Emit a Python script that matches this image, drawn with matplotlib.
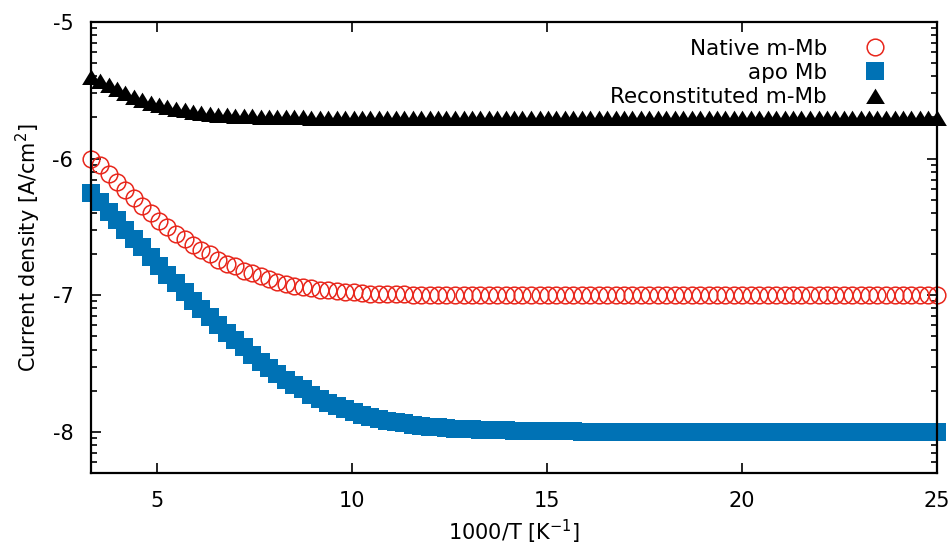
import numpy as np
import matplotlib.pyplot as plt
from matplotlib.ticker import FixedLocator

# 1000/T values [1/K]
inv_temp = [
    3.33, 3.55, 3.77, 3.98, 4.20, 4.42, 4.63, 4.85, 5.07, 5.28,
    5.50, 5.72, 5.93, 6.15, 6.37, 6.58, 6.80, 7.02, 7.23, 7.45,
    7.67, 7.88, 8.10, 8.32, 8.53, 8.75, 8.97, 9.18, 9.40, 9.62,
    9.83, 10.05, 10.27, 10.48, 10.70, 10.92, 11.13, 11.35, 11.57, 11.78,
    12.00, 12.22, 12.43, 12.65, 12.87, 13.08, 13.30, 13.52, 13.73, 13.95,
    14.17, 14.38, 14.60, 14.82, 15.03, 15.25, 15.47, 15.68, 15.90, 16.12,
    16.33, 16.55, 16.77, 16.98, 17.20, 17.42, 17.63, 17.85, 18.07, 18.28,
    18.50, 18.72, 18.93, 19.15, 19.37, 19.58, 19.80, 20.02, 20.23, 20.45,
    20.67, 20.88, 21.10, 21.32, 21.53, 21.75, 21.97, 22.18, 22.40, 22.62,
    22.83, 23.05, 23.27, 23.48, 23.70, 23.92, 24.13, 24.35, 24.57, 24.78,
    25.00,
]

# log10 of current density [A/cm^2]
native = [
    -6.00, -6.05, -6.11, -6.17, -6.23, -6.29, -6.35, -6.40, -6.46, -6.50,
    -6.55, -6.59, -6.63, -6.67, -6.70, -6.74, -6.77, -6.79, -6.82, -6.84,
    -6.86, -6.88, -6.90, -6.915, -6.93, -6.94, -6.95, -6.96, -6.965, -6.97,
    -6.975, -6.98, -6.985, -6.988, -6.99, -6.992, -6.994, -6.995, -6.996, -6.997,
    -6.998, -6.998, -6.999, -6.999, -7.00, -7.00, -7.00, -7.00, -7.00, -7.00,
    -7.00, -7.00, -7.00, -7.00, -7.00, -7.00, -7.00, -7.00, -7.00, -7.00,
    -7.00, -7.00, -7.00, -7.00, -7.00, -7.00, -7.00, -7.00, -7.00, -7.00,
    -7.00, -7.00, -7.00, -7.00, -7.00, -7.00, -7.00, -7.00, -7.00, -7.00,
    -7.00, -7.00, -7.00, -7.00, -7.00, -7.00, -7.00, -7.00, -7.00, -7.00,
    -7.00, -7.00, -7.00, -7.00, -7.00, -7.00, -7.00, -7.00, -7.00, -7.00,
    -7.00,
]

apo = [
    -6.25, -6.32, -6.39, -6.45, -6.52, -6.59, -6.65, -6.72, -6.79, -6.85,
    -6.91, -6.98, -7.04, -7.10, -7.16, -7.22, -7.28, -7.33, -7.38, -7.44,
    -7.49, -7.53, -7.58, -7.62, -7.66, -7.69, -7.73, -7.76, -7.79, -7.81,
    -7.835, -7.856, -7.874, -7.891, -7.905, -7.918, -7.929, -7.939, -7.947, -7.955,
    -7.961, -7.967, -7.971, -7.976, -7.979, -7.982, -7.985, -7.987, -7.989, -7.990,
    -7.992, -7.993, -7.994, -7.995, -7.996, -7.996, -7.997, -7.997, -7.998, -7.998,
    -7.998, -7.999, -7.999, -7.999, -7.999, -7.999, -8.00, -8.00, -8.00, -8.00,
    -8.00, -8.00, -8.00, -8.00, -8.00, -8.00, -8.00, -8.00, -8.00, -8.00,
    -8.00, -8.00, -8.00, -8.00, -8.00, -8.00, -8.00, -8.00, -8.00, -8.00,
    -8.00, -8.00, -8.00, -8.00, -8.00, -8.00, -8.00, -8.00, -8.00, -8.00,
    -8.00,
]

reconstituted = [
    -5.40, -5.43, -5.46, -5.49, -5.52, -5.552, -5.574, -5.594, -5.611, -5.625,
    -5.638, -5.647, -5.658, -5.667, -5.672, -5.68, -5.682, -5.687, -5.689, -5.691,
    -5.694, -5.695, -5.696, -5.697, -5.698, -5.699, -5.70, -5.70, -5.70, -5.70,
    -5.70, -5.70, -5.70, -5.70, -5.70, -5.70, -5.70, -5.70, -5.70, -5.70,
    -5.70, -5.70, -5.70, -5.70, -5.70, -5.70, -5.70, -5.70, -5.70, -5.70,
    -5.70, -5.70, -5.70, -5.70, -5.70, -5.70, -5.70, -5.70, -5.70, -5.70,
    -5.70, -5.70, -5.70, -5.70, -5.70, -5.70, -5.70, -5.70, -5.70, -5.70,
    -5.70, -5.70, -5.70, -5.70, -5.70, -5.70, -5.70, -5.70, -5.70, -5.70,
    -5.70, -5.70, -5.70, -5.70, -5.70, -5.70, -5.70, -5.70, -5.70, -5.70,
    -5.70, -5.70, -5.70, -5.70, -5.70, -5.70, -5.70, -5.70, -5.70, -5.70,
    -5.70,
]

plt.rcParams["font.family"] = "DejaVu Sans"
plt.rcParams["font.size"] = 15
plt.rcParams["axes.unicode_minus"] = False

# wide, flat triangle like gnuplot's point type 9
tri = [(-1, -0.8), (1, -0.8), (0, 0.84)]

fig = plt.figure(figsize=(9.52, 5.46), dpi=100)
ax = fig.add_axes([0.096, 0.134, 0.888, 0.826])

ax.plot(inv_temp, native, linestyle="none", marker="o", markersize=12,
        markerfacecolor="none", markeredgecolor="#e8271c", markeredgewidth=1.1,
        clip_on=False, label="Native m-Mb")
ax.plot(inv_temp, apo, linestyle="none", marker="s", markersize=12.8,
        color="#0072b5", markeredgewidth=0, clip_on=False, label="apo Mb")
ax.plot(inv_temp, reconstituted, linestyle="none", marker=tri, markersize=13.5,
        color="black", markeredgewidth=0, clip_on=False,
        label="Reconstituted m-Mb")

ax.set_xlim(3.33, 25)
ax.set_ylim(-8.3, -5)
ax.set_xticks([5, 10, 15, 20, 25])
ax.set_yticks([-8, -7, -6, -5])

# log-style minor ticks between the decades
minor = [d + np.log10(k) for d in range(-9, -4) for k in range(2, 10)]
ax.yaxis.set_minor_locator(FixedLocator(minor))

ax.tick_params(which="both", direction="in", top=True, right=True, width=1.2)
ax.tick_params(which="major", length=7, pad=13)
ax.tick_params(which="minor", length=4)
for s in ax.spines.values():
    s.set_linewidth(1.6)

ax.set_xlabel("1000/T [K$^{-1}$]", labelpad=5)
ax.set_ylabel("Current density [A/cm$^{2}$]", labelpad=7)

ax.legend(loc="upper right", frameon=False, markerfirst=False,
          handletextpad=1.2, labelspacing=0.2, borderaxespad=0.0,
          borderpad=0.4, fontsize=15.5, bbox_to_anchor=(0.962, 0.982))

fig.savefig("out.png", dpi=100)
plt.close(fig)
